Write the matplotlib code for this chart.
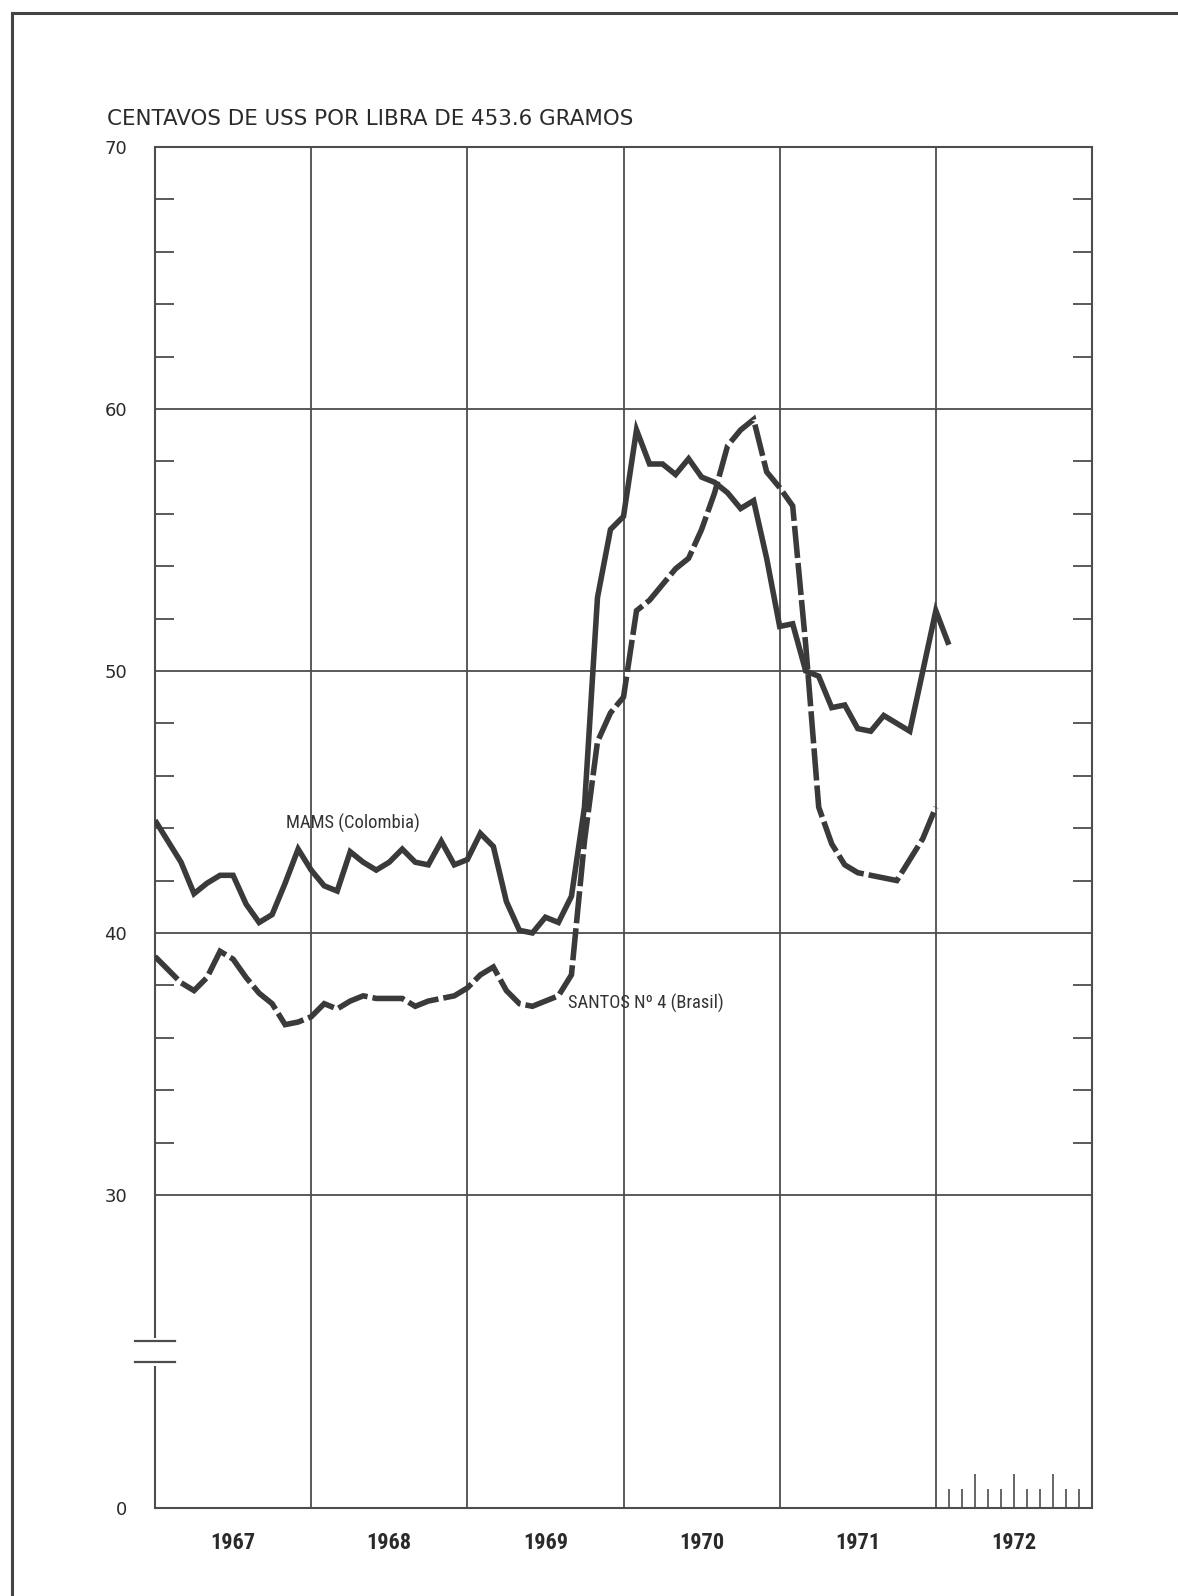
import matplotlib
matplotlib.use("Agg")
import matplotlib.pyplot as plt
import numpy as np
from matplotlib.lines import Line2D
from matplotlib.ticker import FixedLocator, NullFormatter
from matplotlib import font_manager

# ---------------- data (monthly, Jan 1967 = month 0) ----------------
years = ["1967", "1968", "1969", "1970", "1971", "1972"]

mams = [44.3, 43.5, 42.7, 41.5, 41.9, 42.2, 42.2, 41.1, 40.4, 40.7, 41.9, 43.2,
        42.4, 41.8, 41.6, 43.1, 42.7, 42.4, 42.7, 43.2, 42.7, 42.6, 43.5, 42.6,
        42.8, 43.8, 43.3, 41.2, 40.1, 40.0, 40.6, 40.4, 41.4, 44.8, 52.8, 55.4,
        55.9, 59.2, 57.9, 57.9, 57.5, 58.1, 57.4, 57.2, 56.8, 56.2, 56.5, 54.3,
        51.7, 51.8, 50.0, 49.8, 48.6, 48.7, 47.8, 47.7, 48.3, 48.0, 47.7, 50.0,
        52.3, 51.0]

santos = [39.1, 38.6, 38.1, 37.8, 38.3, 39.3, 39.0, 38.3, 37.7, 37.3, 36.5, 36.6,
          36.8, 37.3, 37.1, 37.4, 37.6, 37.5, 37.5, 37.5, 37.2, 37.4, 37.5, 37.6,
          37.9, 38.4, 38.7, 37.8, 37.3, 37.2, 37.4, 37.6, 38.4, 43.5, 47.3, 48.4,
          49.0, 52.3, 52.7, 53.3, 53.9, 54.3, 55.4, 56.8, 58.6, 59.2, 59.6, 57.6,
          57.0, 56.3, 51.0, 44.8, 43.4, 42.6, 42.3, 42.2, 42.1, 42.0, 42.8, 43.6,
          44.8]

y_major = [0, 30, 40, 50, 60, 70]
y_minor = [v for v in range(32, 70, 2) if v % 10 != 0]
label_mams = "MAMS (Colombia)"
label_santos = "SANTOS Nº 4 (Brasil)"
title = "CENTAVOS DE USS POR LIBRA DE 453.6 GRAMOS"
months_1972 = list(range(61, 72))

# ---------------- broken y scale (0..30 compressed) ----------------
K = 11.95 / 30.0


def fwd(y):
    y = np.asarray(y, dtype=float)
    return np.where(y >= 30, y, 30 - (30 - y) * K)


def inv(z):
    z = np.asarray(z, dtype=float)
    return np.where(z >= 30, z, 30 - (30 - z) / K)


INK = "#3a3a3a"
GRID = "#4d4d4d"

# pick a narrow family if one is installed
installed = {f.name for f in font_manager.fontManager.ttflist}
narrow_candidates = ["Liberation Sans Narrow", "DejaVu Sans Condensed",
                     "Roboto Condensed", "Open Sans Condensed"]
NARROW_NAME = next((n for n in narrow_candidates if n in installed), "DejaVu Sans")
NARROW = [NARROW_NAME, "DejaVu Sans"]
NARROW_STRETCH = "condensed"

fig = plt.figure(figsize=(11.78, 15.96), dpi=100)
fig.patch.set_facecolor("white")

W, H = 1178.0, 1596.0
left, right, top, bottom = 155, 1092, 147, 1508
ax = fig.add_axes([left / W, 1 - bottom / H, (right - left) / W, (bottom - top) / H])

ax.set_yscale("function", functions=(fwd, inv))
ax.set_ylim(0, 70)
n_years = len(years)
ax.set_xlim(0, 12 * n_years)

# series
m_idx = np.arange(len(mams))
s_idx = np.arange(len(santos))
ax.plot(m_idx, mams, color=INK, lw=4.0, solid_joinstyle="miter",
        solid_capstyle="butt", zorder=4)
ax.plot(s_idx, santos, color=INK, lw=4.0, dashes=(5.8, 0.9),
        dash_capstyle="butt", dash_joinstyle="miter", zorder=4)

# y ticks
ax.yaxis.set_major_locator(FixedLocator(y_major))
ax.set_yticklabels([str(v) for v in y_major])
ax.yaxis.set_minor_locator(FixedLocator(y_minor))
ax.yaxis.set_minor_formatter(NullFormatter())
ax.tick_params(axis="y", which="major", length=0, pad=20, labelsize=13,
               labelcolor="#2a2a2a")
ax.tick_params(axis="y", which="minor", direction="in", length=13.5, width=1.3,
               color=GRID, left=True, right=True)

# x ticks: year boundaries (grid) and year labels (centred)
ax.xaxis.set_major_locator(FixedLocator([12 * i for i in range(n_years + 1)]))
ax.xaxis.set_major_formatter(NullFormatter())
ax.xaxis.set_minor_locator(FixedLocator([12 * i + 6 for i in range(n_years)]))
ax.set_xticklabels(years, minor=True)
ax.tick_params(axis="x", which="both", length=0)
ax.tick_params(axis="x", which="minor", pad=17)
for lab in ax.get_xticklabels(minor=True):
    lab.set_fontfamily(NARROW)
    lab.set_fontstretch(NARROW_STRETCH)
    lab.set_fontweight("bold")
    lab.set_fontsize(16)
    lab.set_color("#2a2a2a")

# grid: vertical at year boundaries, horizontal at 30..60
ax.grid(False)
for i in range(1, n_years):
    ax.axvline(12 * i, color=GRID, lw=1.3, zorder=1)
for v in y_major:
    if 30 <= v < 70:
        ax.axhline(v, color=GRID, lw=1.3, zorder=1)

for sp in ax.spines.values():
    sp.set_color(GRID)
    sp.set_linewidth(1.5)

# small month marks in 1972
heights = [0.025 if (m % 3 == 0) else 0.014 for m in months_1972]
ax.vlines(months_1972, 0, heights, transform=ax.get_xaxis_transform(),
          color=GRID, lw=1.2, zorder=2)

# axis break on the left spine
ytr = ax.get_yaxis_transform()
ax.plot([0, 0], [14, 16], color="white", lw=5, transform=ytr, clip_on=False,
        zorder=6)
for yb in (14, 16):
    ax.plot([-0.021, 0.021], [yb, yb], color=GRID, lw=1.6, transform=ytr,
            clip_on=False, zorder=7)

# series labels
ax.text(15.2, 44.2, label_mams, family=NARROW, stretch=NARROW_STRETCH,
        fontsize=13.3, color="#333333", ha="center", va="center", zorder=5)
ax.text(31.7, 37.3, label_santos, family=NARROW, stretch=NARROW_STRETCH,
        fontsize=13.3, color="#333333", ha="left", va="center", zorder=5)

# title
fig.text(107 / W, 1 - 119 / H, title, fontsize=15.4, color="#2a2a2a",
         ha="left", va="center")

# page frame lines (top and left)
fig.add_artist(Line2D([12 / W, 1.0], [1 - 13 / H, 1 - 13 / H], color="#444444",
                      lw=2.2, transform=fig.transFigure))
fig.add_artist(Line2D([12 / W, 12 / W], [0.0, 1 - 13 / H], color="#444444",
                      lw=2.2, transform=fig.transFigure))

fig.savefig("out.png", dpi=100, facecolor="white")
